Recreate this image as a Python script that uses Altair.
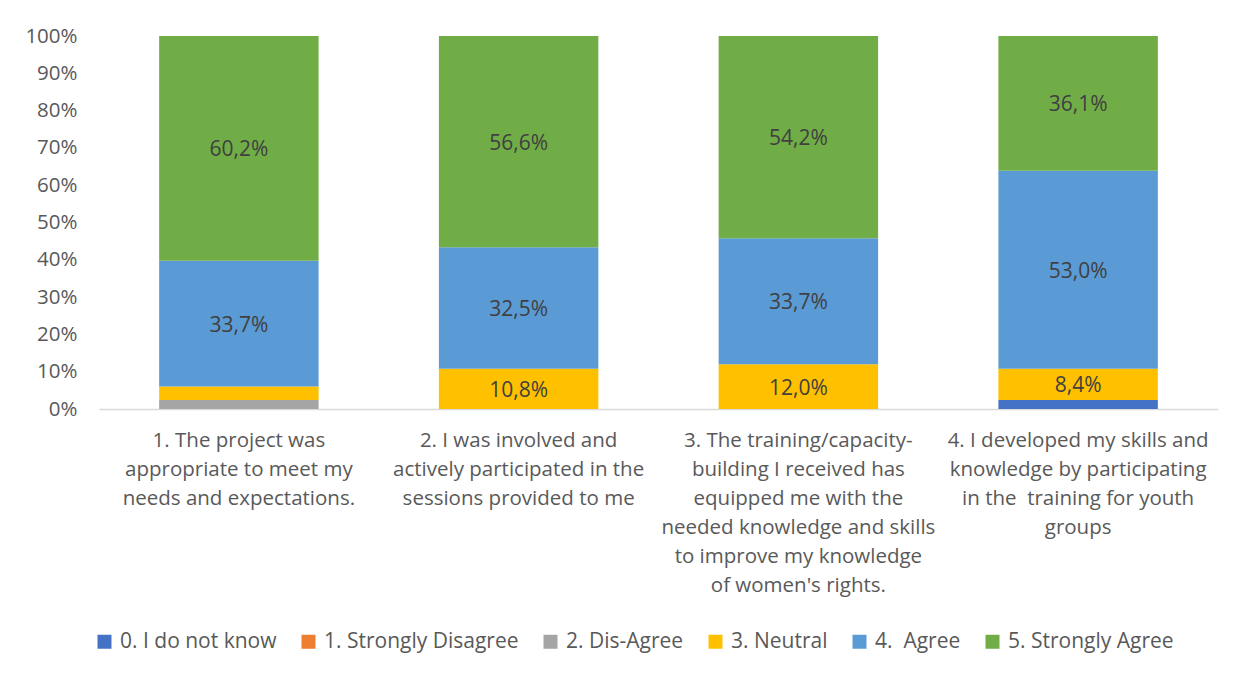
import altair as alt
import pandas as pd

categories = [
    "1. The project was|appropriate to meet my|needs and expectations.",
    "2. I was involved and|actively participated in the|sessions provided to me",
    "3. The training/capacity-|building I received has|equipped me with the|needed knowledge and skills|to improve my knowledge|of women's rights.",
    "4. I developed my skills and|knowledge by participating|in the  training for youth|groups",
]
series = ["0. I do not know", "1. Strongly Disagree", "2. Dis-Agree", "3. Neutral", "4.  Agree", "5. Strongly Agree"]
colors = ["#4472C4", "#ED7D31", "#A5A5A5", "#FFC000", "#5B9BD5", "#70AD47"]

dont_know = [0.0, 0.0, 0.0, 2.4]
strongly_disagree = [0.0, 0.0, 0.0, 0.0]
disagree = [2.4, 0.0, 0.0, 0.0]
neutral = [3.6, 10.8, 12.0, 8.4]
agree = [33.7, 32.5, 33.7, 53.0]
strongly_agree = [60.2, 56.6, 54.2, 36.1]
y_ticks = [0.0, 0.1, 0.2, 0.3, 0.4, 0.5, 0.6, 0.7, 0.8, 0.9, 1.0]

values = [dont_know, strongly_disagree, disagree, neutral, agree, strongly_agree]
rows = []
for si, s in enumerate(series):
    for ci, c in enumerate(categories):
        rows.append({"category": c, "series": s, "order": si, "value": values[si][ci]})
df = pd.DataFrame(rows)

FONT = "Open Sans"
GREY = "#595959"

base = alt.Chart(df).transform_stack(
    stack="value", groupby=["category"], as_=["y0", "y1"],
    sort=[alt.SortField("order", order="ascending")], offset="normalize"
).transform_calculate(mid="(datum.y0 + datum.y1) / 2")

x_scale = alt.Scale(paddingInner=0.43, paddingOuter=0.215)
x_axis = alt.Axis(labelAngle=0,
                  labelExpr="split(replace(datum.label, '  ', ' \u00a0'), '|')",
                  labelFont=FONT, labelFontSize=20.5, labelColor=GREY,
                  labelLineHeight=29, labelPadding=21, ticks=False,
                  domainColor="#D9D9D9", domainWidth=1.5, labelLimit=400)
y_scale = alt.Scale(domain=[0, 1])
y_axis = alt.Axis(format=".0%", values=y_ticks, labelOverlap=False,
                  grid=False, domain=False, ticks=False,
                  labelFont=FONT, labelFontSize=20.5, labelColor=GREY,
                  labelPadding=22)

bars = base.mark_bar().encode(
    x=alt.X("category:N", sort=categories, title=None, scale=x_scale, axis=x_axis),
    y=alt.Y("y0:Q", title=None, scale=y_scale, axis=y_axis),
    y2="y1:Q",
    color=alt.Color("series:N", sort=series,
                    scale=alt.Scale(domain=series, range=colors),
                    legend=alt.Legend(title=None, orient="none", direction="horizontal",
                                      columns=6, legendX=-5, legendY=595,
                                      symbolType="square", symbolSize=196,
                                      symbolStrokeWidth=0, labelLimit=400,
                                      labelExpr="replace(datum.label, '  ', ' \u00a0')",
                                      labelFont=FONT, labelFontSize=21, labelColor=GREY,
                                      columnPadding=21, labelOffset=5)),
    order=alt.Order("order:Q"),
)

labels = base.transform_filter("datum.value >= 5").transform_calculate(
    lab="replace(format(datum.value, '.1f'), '.', ',') + '%'"
).mark_text(font=FONT, fontSize=21, color="#404040", dy=2).encode(
    x=alt.X("category:N", sort=categories, title=None, scale=x_scale, axis=x_axis),
    y=alt.Y("mid:Q", title=None, scale=y_scale, axis=y_axis),
    text="lab:N",
)

fdata = pd.DataFrame({"a": [0]})
frame_style = dict(color="#D9D9D9", strokeWidth=1.2, clip=False)
frame_top = alt.Chart(fdata).mark_rule(**frame_style).encode(
    x=alt.value(-93), x2=alt.value(1144), y=alt.value(-29))
frame_left = alt.Chart(fdata).mark_rule(**frame_style).encode(
    x=alt.value(-93), y=alt.value(-29), y2=alt.value(700))
frame_right = alt.Chart(fdata).mark_rule(**frame_style).encode(
    x=alt.value(1144), y=alt.value(-29), y2=alt.value(700))

chart = alt.layer(frame_top, frame_left, frame_right, bars, labels).properties(
    width=1119, height=373,
    background="white",
    autosize=alt.AutoSizeParams(type="none"),
    padding={"left": 91, "top": 28, "right": 20, "bottom": 250},
).configure_view(stroke=None)

chart.save("out.html", embed_options={"renderer": "svg", "actions": False})
